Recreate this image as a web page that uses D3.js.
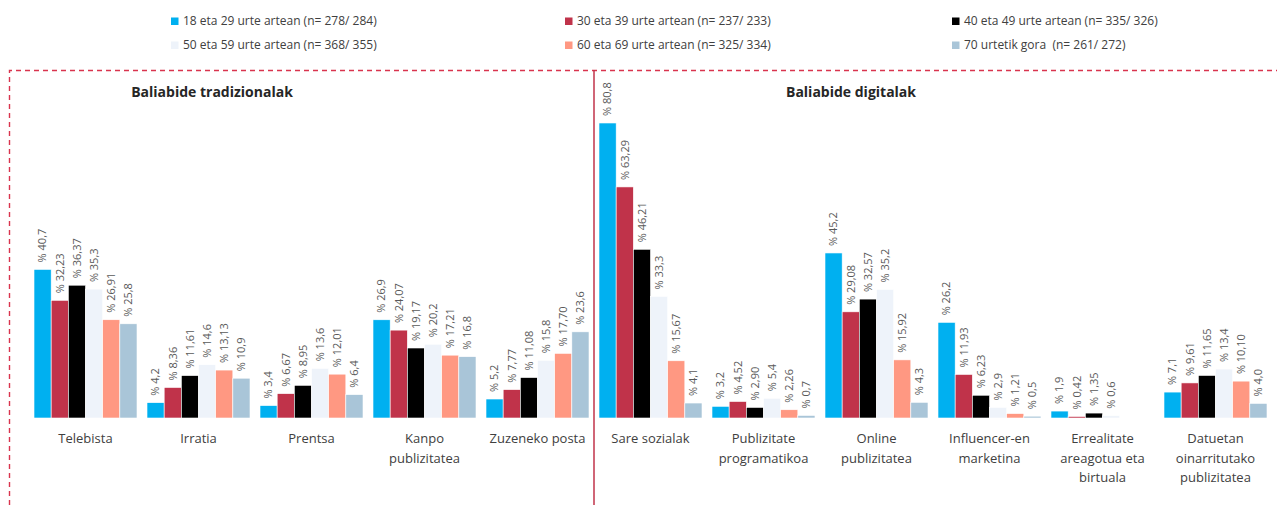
<!DOCTYPE html>
<html>
<head>
<meta charset="utf-8">
<script src="https://cdn.jsdelivr.net/npm/d3@7/dist/d3.min.js"></script>
<style>
  html, body { margin: 0; padding: 0; background: #ffffff; }
  svg { display: block; font-family: "Open Sans", "Noto Sans", sans-serif; }
</style>
</head>
<body>
<svg id="chart" width="1277" height="505"></svg>
<script>
// ---------- DATA ----------
const categories = [
  ["Telebista"],
  ["Irratia"],
  ["Prentsa"],
  ["Kanpo", "publizitatea"],
  ["Zuzeneko posta"],
  ["Sare sozialak"],
  ["Publizitate", "programatikoa"],
  ["Online", "publizitatea"],
  ["Influencer-en", "marketina"],
  ["Errealitate", "areagotua eta", "birtuala"],
  ["Datuetan", "oinarritutako", "publizitatea"]
];
const sectionTitles = ["Baliabide tradizionalak", "Baliabide digitalak"];

const seriesNames = [
  "18 eta 29 urte artean (n= 278/ 284)",
  "30 eta 39 urte artean (n= 237/ 233)",
  "40 eta 49 urte artean (n= 335/ 326)",
  "50 eta 59 urte artean (n= 368/ 355)",
  "60 eta 69 urte artean (n= 325/ 334)",
  "70 urtetik gora  (n= 261/ 272)"
];
const seriesColors = ["#00B0F0", "#C0334A", "#000000", "#EEF3FA", "#FF9882", "#A9C5D8"];

// values as printed on the chart (comma decimals); null = no bar
const age18_29 = ["40,7", "4,2", "3,4", "26,9", "5,2", "80,8", "3,2", "45,2", "26,2", "1,9", "7,1"];
const age30_39 = ["32,23", "8,36", "6,67", "24,07", "7,77", "63,29", "4,52", "29,08", "11,93", "0,42", "9,61"];
const age40_49 = ["36,37", "11,61", "8,95", "19,17", "11,08", "46,21", "2,90", "32,57", "6,23", "1,35", "11,65"];
const age50_59 = ["35,3", "14,6", "13,6", "20,2", "15,8", "33,3", "5,4", "35,2", "2,9", "0,6", "13,4"];
const age60_69 = ["26,91", "13,13", "12,01", "17,21", "17,70", "15,67", "2,26", "15,92", "1,21", null, "10,10"];
const age70plus = ["25,8", "10,9", "6,4", "16,8", "23,6", "4,1", "0,7", "4,3", "0,5", null, "4,0"];

const seriesValues = [age18_29, age30_39, age40_49, age50_59, age60_69, age70plus];

// ---------- CHART ----------
const svg = d3.select("#chart");
const catKeys = categories.map(c => c.join(" "));
const seriesIdx = d3.range(seriesNames.length);

const x = d3.scaleBand()
  .domain(catKeys)
  .range([29, 1272])
  .paddingInner(0.0885)
  .paddingOuter(0.0443);

const xs = d3.scaleBand()
  .domain(seriesIdx)
  .range([0, x.bandwidth()]);

const y = d3.scaleLinear().domain([0, 90]).range([418, 89.4]);

const data = [];
catKeys.forEach((k, ci) => {
  seriesIdx.forEach(si => {
    const s = seriesValues[si][ci];
    if (s !== null) data.push({ cat: k, s: si, label: s, v: parseFloat(s.replace(",", ".")) });
  });
});

// frame: dashed border + divider
svg.append("path")
  .attr("d", "M9.5,505 V70.5 H1277")
  .attr("fill", "none")
  .attr("stroke", "#D9344E")
  .attr("stroke-width", 1.4)
  .attr("stroke-dasharray", "5,4");

const divX = (x(catKeys[4]) + x.bandwidth() + x(catKeys[5])) / 2;
svg.append("line")
  .attr("x1", divX).attr("x2", divX)
  .attr("y1", 70).attr("y2", 505)
  .attr("stroke", "#C0334A")
  .attr("stroke-width", 1.5);

// section titles
svg.append("text")
  .attr("x", 212).attr("y", 97)
  .attr("text-anchor", "middle")
  .attr("font-size", 14).attr("font-weight", "bold")
  .attr("fill", "#262626")
  .text(sectionTitles[0]);
svg.append("text")
  .attr("x", 851).attr("y", 97)
  .attr("text-anchor", "middle")
  .attr("font-size", 14).attr("font-weight", "bold")
  .attr("fill", "#262626")
  .text(sectionTitles[1]);

// bars
const g = svg.append("g");
g.selectAll("rect.bar")
  .data(data)
  .join("rect")
  .attr("class", "bar")
  .attr("x", d => x(d.cat) + xs(d.s))
  .attr("y", d => y(d.v))
  .attr("width", xs.bandwidth())
  .attr("height", d => y(0) - y(d.v))
  .attr("fill", d => seriesColors[d.s])
  .attr("stroke", "#ffffff")
  .attr("stroke-width", 0.6);

// value labels
g.selectAll("text.val")
  .data(data)
  .join("text")
  .attr("class", "val")
  .attr("transform", d => `translate(${x(d.cat) + xs(d.s) + xs.bandwidth() / 2},${y(d.v) - 7}) rotate(-90)`)
  .attr("dy", "0.35em")
  .attr("font-size", 11)
  .attr("fill", "#595959")
  .text(d => "% " + d.label);

// category labels
const cl = svg.append("g");
categories.forEach((lines, ci) => {
  const t = cl.append("text")
    .attr("x", x(catKeys[ci]) + x.bandwidth() / 2)
    .attr("y", 443)
    .attr("text-anchor", "middle")
    .attr("font-size", 13)
    .attr("fill", "#404040");
  lines.forEach((ln, li) => {
    t.append("tspan")
      .attr("x", x(catKeys[ci]) + x.bandwidth() / 2)
      .attr("dy", li === 0 ? 0 : 19.5)
      .text(ln);
  });
});

// legend
const legX = [171, 565, 952];
const legY = [21, 45];
const leg = svg.append("g");
seriesNames.forEach((name, i) => {
  const cx = legX[i % 3], cy = legY[Math.floor(i / 3)];
  leg.append("rect")
    .attr("x", cx).attr("y", cy - 3.5)
    .attr("width", 7.5).attr("height", 7.5)
    .attr("fill", seriesColors[i]);
  leg.append("text")
    .attr("x", cx + 12).attr("y", cy)
    .attr("dy", "0.35em")
    .attr("font-size", 12)
    .attr("fill", "#404040")
    .style("white-space", "pre")
    .text(name);
});
</script>
</body>
</html>
